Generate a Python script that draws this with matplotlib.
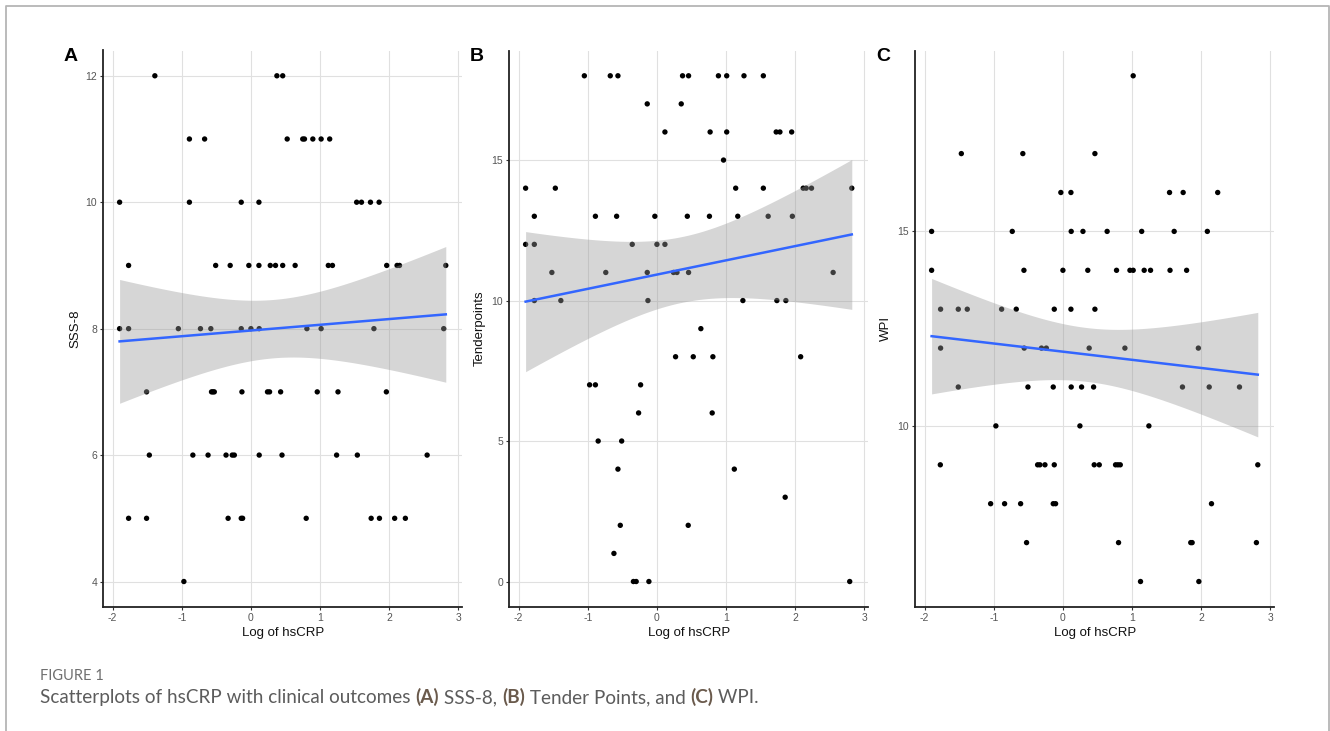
import numpy as np
import matplotlib
matplotlib.use("Agg")
import matplotlib.pyplot as plt
from matplotlib.lines import Line2D

# ---------------- data ----------------
sss8_x = [-1.39, 0.376, 0.46,
          -0.89, -0.67, 0.525, 0.75, 0.775, 0.896, 1.016, 1.14,
          -1.90, -0.89, -0.14, 0.116, 1.53, 1.60, 1.73, 1.855,
          -1.77, -0.51, -0.30, -0.03, 0.116, 0.28, 0.356, 0.46, 0.64, 1.12, 1.18, 1.965, 2.115, 2.15, 2.82,
          -1.90, -1.77, -1.05, -0.73, -0.58, -0.14, 0.0, 0.12, 0.81, 1.016, 1.78, 2.79,
          -1.51, -0.57, -0.55, -0.53, -0.13, 0.24, 0.27, 0.43, 0.96, 1.26, 1.96,
          -1.47, -0.84, -0.62, -0.36, -0.27, -0.24, 0.12, 0.45, 1.24, 1.54, 2.55,
          -1.77, -1.51, -0.33, -0.14, -0.12, 0.80, 1.74, 1.86, 2.08, 2.235,
          -0.97]
sss8_y = [12, 12, 12,
          11, 11, 11, 11, 11, 11, 11, 11,
          10, 10, 10, 10, 10, 10, 10, 10,
          9, 9, 9, 9, 9, 9, 9, 9, 9, 9, 9, 9, 9, 9, 9,
          8, 8, 8, 8, 8, 8, 8, 8, 8, 8, 8, 8,
          7, 7, 7, 7, 7, 7, 7, 7, 7, 7, 7,
          6, 6, 6, 6, 6, 6, 6, 6, 6, 6, 6,
          5, 5, 5, 5, 5, 5, 5, 5, 5, 5,
          4]

tender_x = [-1.05, -0.675, -0.564, 0.371, 0.458, 0.89, 1.01, 1.26, 1.54,
            -0.14, 0.352,
            0.116, 0.77, 1.01, 1.726, 1.78, 1.95,
            0.964,
            -1.90, -1.47, 1.14, 1.54, 2.117, 2.16, 2.237, 2.82,
            -1.774, -0.89, -0.583, -0.03, 0.44, 0.76, 1.17, 1.61, 1.96,
            -1.90, -1.774, -0.357, 0.0, 0.116,
            -1.52, -0.74, -0.14, 0.24, 0.29, 0.458, 2.55,
            -1.774, -1.39, -0.13, 1.244, 1.736, 1.866,
            0.636,
            0.27, 0.526, 0.81, 2.08,
            -0.974, -0.89, -0.236,
            -0.265, 0.80,
            -0.85, -0.51,
            -0.564, 1.12,
            1.856,
            -0.53, 0.453,
            -0.622,
            -0.34, -0.30, -0.116, 2.79]
tender_y = [18, 18, 18, 18, 18, 18, 18, 18, 18,
            17, 17,
            16, 16, 16, 16, 16, 16,
            15,
            14, 14, 14, 14, 14, 14, 14, 14,
            13, 13, 13, 13, 13, 13, 13, 13, 13,
            12, 12, 12, 12, 12,
            11, 11, 11, 11, 11, 11, 11,
            10, 10, 10, 10, 10, 10,
            9,
            8, 8, 8, 8,
            7, 7, 7,
            6, 6,
            5, 5,
            4, 4,
            3,
            2, 2,
            1,
            0, 0, 0, 0]

wpi_x = [1.017,
         -1.47, -0.58, 0.463,
         -0.03, 0.116, 1.543, 1.74, 2.24,
         -1.90, -0.733, 0.12, 0.29, 0.64, 1.14, 1.61, 2.09,
         -1.90, -0.564, 0.0, 0.36, 0.776, 0.97, 1.017, 1.176, 1.268, 1.55, 1.79,
         -1.77, -1.514, -1.384, -0.887, -0.675, -0.125, 0.116, 0.463,
         -1.77, -0.56, -0.31, -0.24, 0.38, 0.897, 1.96,
         -1.514, -0.506, -0.14, 0.12, 0.27, 0.444, 1.73, 2.117, 2.555,
         -0.97, 0.246, 1.244,
         -1.774, -0.366, -0.333, -0.26, -0.125, 0.453, 0.526, 0.762, 0.796, 0.83, 2.82,
         -1.046, -0.844, -0.612, -0.14, -0.106, 2.15,
         -0.526, 0.805, 1.85, 1.87, 2.80,
         1.123, 1.967]
wpi_y = [19,
         17, 17, 17,
         16, 16, 16, 16, 16,
         15, 15, 15, 15, 15, 15, 15, 15,
         14, 14, 14, 14, 14, 14, 14, 14, 14, 14, 14,
         13, 13, 13, 13, 13, 13, 13, 13,
         12, 12, 12, 12, 12, 12, 12,
         11, 11, 11, 11, 11, 11, 11, 11, 11,
         10, 10, 10,
         9, 9, 9, 9, 9, 9, 9, 9, 9, 9, 9,
         8, 8, 8, 8, 8, 8,
         7, 7, 7, 7, 7,
         6, 6]

x_ticks = [-2, -1, 0, 1, 2, 3]
panels = [
    ("A", "SSS-8", sss8_x, sss8_y, [4, 6, 8, 10, 12]),
    ("B", "Tenderpoints", tender_x, tender_y, [0, 5, 10, 15]),
    ("C", "WPI", wpi_x, wpi_y, [10, 15]),
]
x_title = "Log of hsCRP"
caption_head = "FIGURE 1"
caption_parts = [("Scatterplots of hsCRP with clinical outcomes ", False),
                 ("(A)", True), (" SSS-8, ", False),
                 ("(B)", True), (" Tender Points, and ", False),
                 ("(C)", True), (" WPI.", False)]

# ---------------- helpers ----------------
def t_quantile(df, z=1.959963985):
    # Cornish-Fisher expansion of Student t quantile
    return (z + (z**3 + z) / (4 * df) + (5 * z**5 + 16 * z**3 + 3 * z) / (96 * df**2)
            + (3 * z**7 + 19 * z**5 + 17 * z**3 - 15 * z) / (384 * df**3))


def lm_fit(x, y, n_grid=80):
    x = np.asarray(x, float)
    y = np.asarray(y, float)
    n = len(x)
    b1, b0 = np.polyfit(x, y, 1)
    resid = y - (b0 + b1 * x)
    s = np.sqrt(np.sum(resid**2) / (n - 2))
    xm = x.mean()
    sxx = np.sum((x - xm)**2)
    xg = np.linspace(x.min(), x.max(), n_grid)
    yg = b0 + b1 * xg
    se = s * np.sqrt(1.0 / n + (xg - xm)**2 / sxx)
    t = t_quantile(n - 2)
    return xg, yg, yg - t * se, yg + t * se


def expand(v, frac=0.05):
    lo, hi = min(v), max(v)
    r = hi - lo
    return lo - frac * r, hi + frac * r

# ---------------- figure ----------------
W, H = 1330, 731
plt.rcParams['font.family'] = ['Liberation Sans', 'DejaVu Sans']
plt.rcParams['axes.unicode_minus'] = False
fig = plt.figure(figsize=(W / 100, H / 100), dpi=100)

# outer frame (left, top, right)
frame = Line2D([6 / W, 6 / W, 1329 / W, 1329 / W], [0, 1 - 6 / H, 1 - 6 / H, 0],
               transform=fig.transFigure, color="#b5b5b5", lw=1.3)
fig.add_artist(frame)

lefts = [103.3, 509.3, 915.3]
ax_w = 358.8
top_px, bot_px = 50.5, 606.8
letter_x = [64, 470, 876]
ylab_x = [75, 480, 886]

for i, (letter, ylab, xs, ys, yt) in enumerate(panels):
    ax = fig.add_axes([lefts[i] / W, 1 - bot_px / H, ax_w / W, (bot_px - top_px) / H])
    ax.set_xlim(*expand(xs))
    ax.set_ylim(*expand(ys))
    ax.set_xticks(x_ticks)
    ax.set_yticks(yt)
    ax.set_axisbelow(True)
    ax.grid(True, color="#e0e0e0", lw=0.8)
    for sp in ("top", "right"):
        ax.spines[sp].set_visible(False)
    for sp in ("left", "bottom"):
        ax.spines[sp].set_color("#222222")
        ax.spines[sp].set_linewidth(1.3)
    ax.tick_params(direction="out", length=2.5, width=0.8, color="#333333",
                   labelsize=7.5, labelcolor="#555555", pad=2)

    ax.scatter(xs, ys, s=15, color="black", edgecolors="none", zorder=2)
    xg, yg, lo, hi = lm_fit(xs, ys)
    ax.fill_between(xg, lo, hi, color="#999999", alpha=0.4, lw=0, zorder=3)
    ax.plot(xg, yg, color="#3366FF", lw=1.8, zorder=4)

    ax.text(0.5, (bot_px - 633) / (bot_px - top_px), x_title, transform=ax.transAxes,
            ha="center", va="center", fontsize=9.5, color="#111111")
    fig.text(ylab_x[i] / W, 1 - ((top_px + bot_px) / 2) / H, ylab, rotation=90,
             ha="center", va="center", fontsize=9.5, color="#111111")
    fig.text(letter_x[i] / W, 1 - 61 / H, letter, ha="left", va="baseline",
             fontsize=14, fontweight="bold", color="black")

# ---------------- caption ----------------
cap_font = ['Lato', 'DejaVu Sans']
fig.text(40 / W, 1 - 680 / H, caption_head, ha="left", va="baseline",
         fontsize=10.5, color="#6f6f6f", family=cap_font)

renderer = fig.canvas.get_renderer()
x_px = 40
for txt, bold in caption_parts:
    t = fig.text(x_px / W, 1 - 703 / H, txt, ha="left", va="baseline",
                 fontsize=13.6, family=cap_font,
                 fontweight="bold" if bold else "normal",
                 color="#6a5a4c" if bold else "#5c5c5c")
    bb = t.get_window_extent(renderer=renderer)
    x_px += bb.width

fig.savefig("out.png", dpi=100)
